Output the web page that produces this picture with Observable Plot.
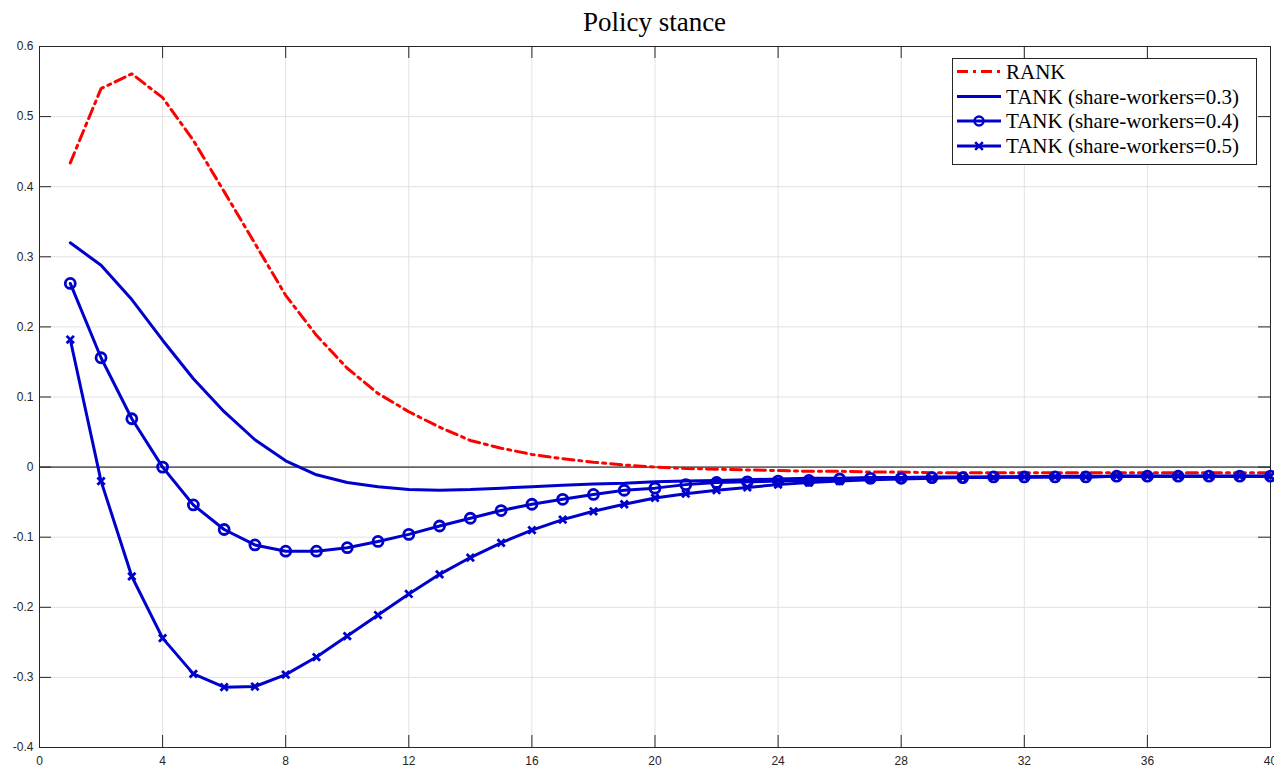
<!DOCTYPE html>
<html>
<head>
<meta charset="utf-8">
<script src="https://cdn.jsdelivr.net/npm/d3@7"></script>
<script src="https://cdn.jsdelivr.net/npm/@observablehq/plot@0.6"></script>
<style>
  html, body { margin: 0; padding: 0; background: #fff; }
  #wrap { position: relative; width: 1274px; height: 769px; overflow: hidden; }
  #title { position: absolute; left: 39px; width: 1231px; top: 9px; text-align: center;
           font-family: "Liberation Serif", "DejaVu Serif", serif; font-size: 27px; line-height: 27px; color: #000; }
  #chart { position: absolute; left: 0; top: 40px; }
  #legend { position: absolute; left: 952px; top: 58px; }
</style>
</head>
<body>
<div id="wrap">
  <div id="title">Policy stance</div>
  <div id="chart"></div>
  <div id="legend"></div>
</div>
<script>
// ---- data ----
const periods = [1,2,3,4,5,6,7,8,9,10,11,12,13,14,15,16,17,18,19,20,21,22,23,24,25,26,27,28,29,30,31,32,33,34,35,36,37,38,39,40];
const rank = [0.434,0.540,0.561,0.527,0.466,0.393,0.319,0.245,0.188,0.141,0.105,0.079,0.057,0.038,0.027,0.018,0.012,0.007,0.003,0.000,-0.002,-0.003,-0.004,-0.005,-0.006,-0.006,-0.007,-0.007,-0.008,-0.008,-0.008,-0.008,-0.008,-0.008,-0.008,-0.008,-0.008,-0.008,-0.008,-0.008];
const tank03 = [0.320,0.288,0.239,0.181,0.126,0.079,0.039,0.009,-0.011,-0.022,-0.028,-0.032,-0.033,-0.032,-0.030,-0.028,-0.026,-0.024,-0.023,-0.021,-0.020,-0.019,-0.018,-0.017,-0.016,-0.016,-0.015,-0.015,-0.014,-0.014,-0.014,-0.014,-0.013,-0.013,-0.013,-0.013,-0.013,-0.013,-0.013,-0.013];
const tank04 = [0.262,0.156,0.069,0.000,-0.054,-0.089,-0.111,-0.120,-0.120,-0.115,-0.106,-0.096,-0.084,-0.073,-0.062,-0.053,-0.046,-0.039,-0.033,-0.030,-0.025,-0.022,-0.021,-0.020,-0.019,-0.017,-0.016,-0.016,-0.015,-0.015,-0.014,-0.014,-0.014,-0.014,-0.013,-0.013,-0.013,-0.013,-0.013,-0.013];
const tank05 = [0.182,-0.020,-0.156,-0.244,-0.295,-0.314,-0.313,-0.296,-0.271,-0.241,-0.211,-0.181,-0.153,-0.129,-0.108,-0.090,-0.075,-0.063,-0.053,-0.044,-0.038,-0.033,-0.029,-0.025,-0.022,-0.020,-0.018,-0.017,-0.016,-0.015,-0.015,-0.014,-0.014,-0.014,-0.013,-0.013,-0.013,-0.013,-0.013,-0.013];
const seriesNames = ["RANK","TANK (share-workers=0.3)","TANK (share-workers=0.4)","TANK (share-workers=0.5)"];
const xTicks = [0,4,8,12,16,20,24,28,32,36,40];
const yTicks = [-0.4,-0.3,-0.2,-0.1,0,0.1,0.2,0.3,0.4,0.5,0.6];

// ---- styles ----
const RED = "#ff0000";
const BLUE = "#0000cc";
const AX = "#262626";
const W = 1274, H = 729;
const mT = 6, mB = 22, mL = 39, mR = 4;
const fH = H - mT - mB, fW = W - mL - mR;
const TICK = 12;

const rows = (vals) => periods.map((p, i) => ({period: p, value: vals[i]}));
const dRank = rows(rank), d03 = rows(tank03), d04 = rows(tank04), d05 = rows(tank05);

const chart = Plot.plot({
  width: W, height: H,
  marginTop: mT, marginBottom: mB, marginLeft: mL, marginRight: mR,
  style: {fontFamily: "'Liberation Sans', Arial, sans-serif", fontSize: "12px", color: AX, background: "#fff"},
  x: {domain: [0, 40]},
  y: {domain: [-0.4, 0.6]},
  marks: [
    Plot.gridX(xTicks, {stroke: "#e2e2e2", strokeOpacity: 1, strokeWidth: 1}),
    Plot.gridY(yTicks, {stroke: "#e2e2e2", strokeOpacity: 1, strokeWidth: 1}),
    Plot.ruleY([0], {stroke: "#666666", strokeWidth: 1.6}),
    // inward ticks on all four sides (box style)
    Plot.ruleX(xTicks, {x: d => d, insetTop: fH - TICK, stroke: AX}),
    Plot.ruleX(xTicks, {x: d => d, insetBottom: fH - TICK, stroke: AX}),
    Plot.ruleY(yTicks, {y: d => d, insetRight: fW - TICK, stroke: AX}),
    Plot.ruleY(yTicks, {y: d => d, insetLeft: fW - TICK, stroke: AX}),
    Plot.axisX(xTicks, {tickSize: 0, tickPadding: 9, label: null, fontSize: 12, tickFormat: d => String(d), fill: AX}),
    Plot.axisY(yTicks, {tickSize: 0, tickPadding: 6, label: null, fontSize: 12, tickFormat: d => String(d), fill: AX}),
    Plot.frame({stroke: AX, strokeWidth: 1}),
    // series
    Plot.line(dRank, {x: "period", y: "value", stroke: RED, strokeWidth: 3, strokeDasharray: "11,5,3,5"}),
    Plot.line(d03, {x: "period", y: "value", stroke: BLUE, strokeWidth: 3}),
    Plot.line(d04, {x: "period", y: "value", stroke: BLUE, strokeWidth: 3}),
    Plot.dot(d04, {x: "period", y: "value", r: 5, stroke: BLUE, strokeWidth: 2.8, fill: "none"}),
    Plot.line(d05, {x: "period", y: "value", stroke: BLUE, strokeWidth: 3}),
    Plot.dot(d05, {x: "period", y: "value", symbol: "times", r: 3.4, stroke: BLUE, strokeWidth: 2.8})
  ]
});
document.getElementById("chart").appendChild(chart);

// ---- legend ----
const lg = d3.select("#legend").append("svg").attr("width", 305).attr("height", 107);
lg.append("rect").attr("x", 0.5).attr("y", 0.5).attr("width", 304).attr("height", 106)
  .attr("fill", "#fff").attr("stroke", AX).attr("stroke-width", 1);
const rowY = [13.5, 38.5, 63, 88];
seriesNames.forEach((name, i) => {
  const y = rowY[i];
  const col = i === 0 ? RED : BLUE;
  const ln = lg.append("line").attr("x1", 5).attr("x2", 49).attr("y1", y).attr("y2", y)
    .attr("stroke", col).attr("stroke-width", 3);
  if (i === 0) ln.attr("stroke-dasharray", "11,5,3,5");
  if (i === 2) lg.append("circle").attr("cx", 27).attr("cy", y).attr("r", 4.5)
    .attr("fill", "none").attr("stroke", BLUE).attr("stroke-width", 2.5);
  if (i === 3) lg.append("path").attr("d", d3.symbol(d3.symbolTimes, 40)()).attr("transform", `translate(27,${y})`)
    .attr("fill", "none").attr("stroke", BLUE).attr("stroke-width", 2.5);
  lg.append("text").attr("x", 54).attr("y", y + 7).text(name)
    .attr("font-family", "'Liberation Serif', 'DejaVu Serif', serif").attr("font-size", "21px").attr("fill", "#000");
});
</script>
</body>
</html>
